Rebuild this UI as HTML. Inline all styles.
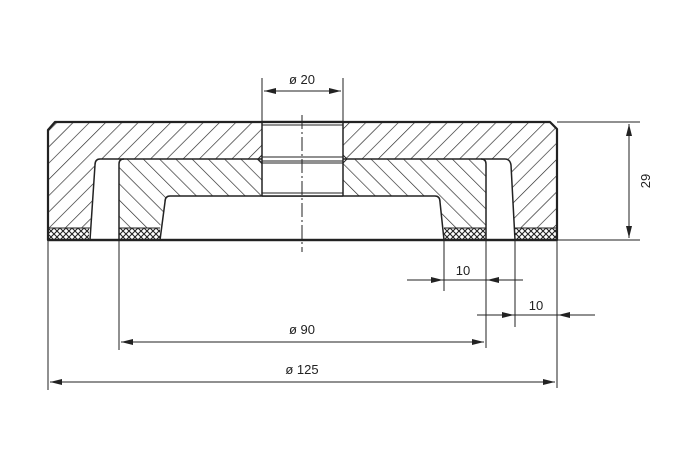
<!DOCTYPE html>
<html><head><meta charset="utf-8"><style>
html,body{margin:0;padding:0;background:#fff}
svg{display:block}
text{font-family:"Liberation Sans",sans-serif;font-size:13px;fill:#222}
</style></head><body>
<svg width="700" height="467" viewBox="0 0 700 467" xmlns="http://www.w3.org/2000/svg">
<defs>
<pattern id="hu" patternUnits="userSpaceOnUse" width="11.5" height="11.5" patternTransform="rotate(45)">
<line x1="0" y1="0" x2="0" y2="11.5" stroke="#222" stroke-width="1.3"/></pattern>
<pattern id="hd" patternUnits="userSpaceOnUse" width="11.5" height="11.5" patternTransform="rotate(-45)">
<line x1="0" y1="0" x2="0" y2="11.5" stroke="#222" stroke-width="1.3"/></pattern>
<pattern id="xh" patternUnits="userSpaceOnUse" width="6" height="6">
<path d="M0,0L6,6M6,0L0,6" stroke="#222" stroke-width="1.1"/></pattern>
<marker id="a" viewBox="0 0 12 6" refX="12" refY="3" markerWidth="12" markerHeight="6" orient="auto-start-reverse" markerUnits="userSpaceOnUse">
<path d="M0,0L12,3L0,6z" fill="#222"/></marker>
</defs>
<g stroke="#222" stroke-linejoin="round">
<path d="M48,130L55,122L262,122L262,159L100,159Q95,159 95,165L90,228L48,228Z" fill="url(#hu)" stroke="none"/>
<path d="M343,122L550,122L557,129L557,228L515,228L511,165Q510,159 505,159L343,159Z" fill="url(#hu)" stroke="none"/>
<path d="M119,164Q119,159 124,159L262,159L262,196L170,196Q165,196 165,202L160,228L119,228Z" fill="url(#hd)" stroke="none"/>
<path d="M343,159L481,159Q486,159 486,164L486,228L444,228L440,202Q440,196 435,196L343,196Z" fill="url(#hd)" stroke="none"/>
<rect x="48" y="228" width="41" height="12" fill="#fff" stroke="none"/>
<rect x="119" y="228" width="41" height="12" fill="#fff" stroke="none"/>
<rect x="444" y="228" width="42" height="12" fill="#fff" stroke="none"/>
<rect x="515" y="228" width="42" height="12" fill="#fff" stroke="none"/>
<rect x="48" y="228" width="41" height="12" fill="url(#xh)" stroke="none"/>
<rect x="119" y="228" width="41" height="12" fill="url(#xh)" stroke="none"/>
<rect x="444" y="228" width="42" height="12" fill="url(#xh)" stroke="none"/>
<rect x="515" y="228" width="42" height="12" fill="url(#xh)" stroke="none"/>
<line x1="48" y1="228" x2="90" y2="228" stroke-width="1"/>
<line x1="119" y1="228" x2="160" y2="228" stroke-width="1"/>
<line x1="444" y1="228" x2="486" y2="228" stroke-width="1"/>
<line x1="515" y1="228" x2="557" y2="228" stroke-width="1"/>
<path d="M48,240L48,130L55,122L550,122L557,129L557,240Z" fill="none" stroke-width="2.2"/>
<path d="M90,240L95,165Q95,159 100,159L505,159Q510,159 511,165L515,240" fill="none" stroke-width="1.5"/>
<path d="M119,240L119,164Q119,159 124,159" fill="none" stroke-width="1.5"/>
<path d="M486,240L486,164Q486,159 481,159" fill="none" stroke-width="1.5"/>
<path d="M160,240L165,202Q165,196 170,196L435,196Q440,196 440,202L444,240" fill="none" stroke-width="1.5"/>
<rect x="262" y="122" width="81" height="74" fill="#fff" stroke="none"/>
<line x1="262" y1="122" x2="262" y2="196" stroke-width="1.5"/>
<line x1="343" y1="122" x2="343" y2="196" stroke-width="1.5"/>
<line x1="262" y1="125" x2="343" y2="125" stroke-width="1"/>
<path d="M262,155L258,159L262,163M343,155L347,159L343,163" fill="none" stroke-width="1"/>
<line x1="262" y1="157" x2="343" y2="157" stroke-width="1"/>
<line x1="262" y1="161" x2="343" y2="161" stroke-width="1"/>
<line x1="262" y1="163" x2="343" y2="163" stroke-width="1"/>
<line x1="262" y1="193" x2="343" y2="193" stroke-width="1"/>
<line x1="262" y1="196" x2="343" y2="196" stroke-width="1.5"/>
<line x1="262" y1="122" x2="343" y2="122" stroke-width="2.2"/>
<line x1="302" y1="115" x2="302" y2="252" stroke-width="1" stroke-dasharray="14,3,2,3"/>
<line x1="48" y1="240" x2="557" y2="240" stroke-width="2.2"/>
<g stroke-width="1" fill="none">
<line x1="262" y1="78" x2="262" y2="122"/><line x1="343" y1="78" x2="343" y2="122"/>
<line x1="264" y1="91" x2="341" y2="91" marker-start="url(#a)" marker-end="url(#a)"/>
<line x1="557" y1="122" x2="640" y2="122"/><line x1="557" y1="240" x2="640" y2="240"/>
<line x1="629" y1="124" x2="629" y2="238" marker-start="url(#a)" marker-end="url(#a)"/>
<line x1="444" y1="240" x2="444" y2="291"/><line x1="486" y1="240" x2="486" y2="348"/>
<line x1="515" y1="240" x2="515" y2="327"/><line x1="557" y1="240" x2="557" y2="388"/>
<line x1="48" y1="240" x2="48" y2="390"/><line x1="119" y1="240" x2="119" y2="350"/>
<line x1="407" y1="280" x2="443" y2="280" marker-end="url(#a)"/>
<line x1="523" y1="280" x2="487" y2="280" marker-end="url(#a)"/>
<line x1="443" y1="280" x2="487" y2="280"/>
<line x1="477" y1="315" x2="514" y2="315" marker-end="url(#a)"/>
<line x1="595" y1="315" x2="558" y2="315" marker-end="url(#a)"/>
<line x1="514" y1="315" x2="558" y2="315"/>
<line x1="121" y1="342" x2="484" y2="342" marker-start="url(#a)" marker-end="url(#a)"/>
<line x1="50" y1="382" x2="555" y2="382" marker-start="url(#a)" marker-end="url(#a)"/>
</g>
</g>
<text x="302" y="84" text-anchor="middle">ø 20</text>
<text x="463" y="275" text-anchor="middle">10</text>
<text x="536" y="310" text-anchor="middle">10</text>
<text x="302" y="334" text-anchor="middle">ø 90</text>
<text x="302" y="374" text-anchor="middle">ø 125</text>
<text transform="translate(650,181) rotate(-90)" text-anchor="middle">29</text>
</svg>
</body></html>
